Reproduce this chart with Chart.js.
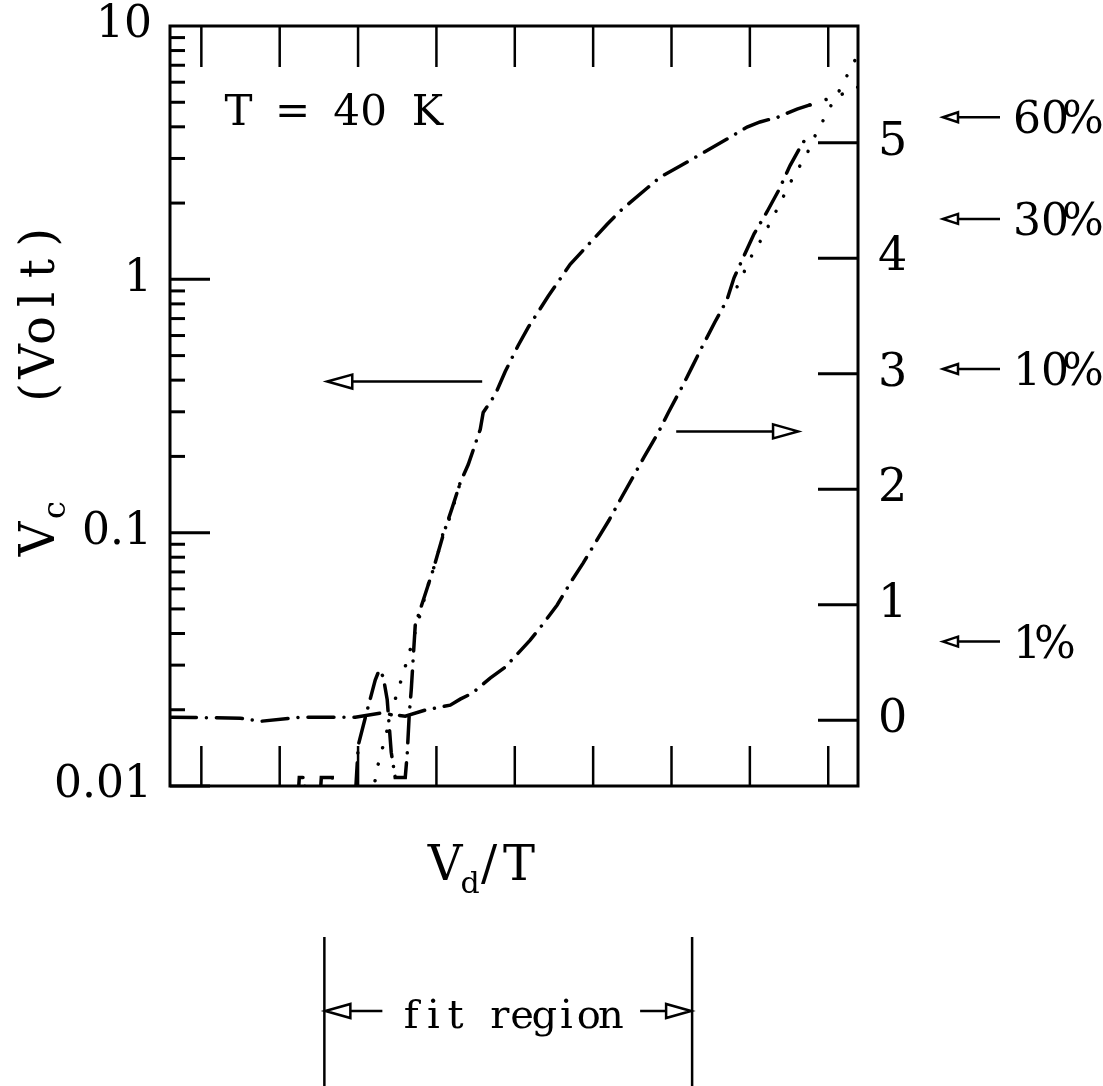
<!DOCTYPE html>
<html>
<head>
<meta charset="utf-8">
<script src="https://cdn.jsdelivr.net/npm/chart.js@4.4.1/dist/chart.umd.min.js"></script>
<style>
  html, body { margin: 0; padding: 0; background: #fff; }
  canvas { display: block; }
</style>
</head>
<body>
<canvas id="chart" width="1103" height="1086"></canvas>
<script>
// x is in plot units (the 9 unlabeled ticks are 1..9)
// left curve (log axis) - dash-dot
const fitLeftX = [0.6, 2.224, 2.250, 2.314, 2.339, 2.505, 2.531, 2.671, 2.696, 2.964, 3.003, 3.092, 3.219,
  3.270, 3.321, 3.372, 3.423, 3.474, 3.602, 3.628, 3.653, 3.679, 3.730, 3.959, 4.087, 4.202, 4.304,
  4.406, 4.559, 4.597, 4.750, 4.878, 5.043, 5.171, 5.426, 5.707, 5.860, 6.179, 6.344, 6.702, 6.855,
  7.110, 7.327, 7.709, 7.964, 8.130, 8.360, 8.602, 8.767];
const fitLeftY = [0.008, 0.008, 0.0108, 0.0108, 0.008, 0.008, 0.0108, 0.0108, 0.008, 0.009, 0.0145, 0.0186, 0.0262,
  0.0287, 0.027, 0.0219, 0.0136, 0.0108, 0.0108, 0.0135, 0.0191, 0.024, 0.0433, 0.0715, 0.0982, 0.1256, 0.1577,
  0.1857, 0.2555, 0.298, 0.351, 0.4325, 0.548, 0.646, 0.857, 1.146, 1.29, 1.65, 1.86, 2.31, 2.53,
  2.80, 3.06, 3.58, 3.99, 4.18, 4.37, 4.70, 4.88];

// left curve (log axis) - dotted
const dataLeftX = [3.181, 3.245, 3.309, 3.398, 3.487, 3.564, 3.628, 3.730, 3.819, 3.883, 3.959, 4.023, 4.087,
  4.176, 4.304, 6.0, 8.767, 9.023, 9.253, 9.38];
const dataLeftY = [0.009, 0.0118, 0.0140, 0.0179, 0.0227, 0.0270, 0.0315, 0.0406, 0.0510, 0.0606, 0.0715, 0.0835, 0.1001,
  0.1155, 0.1577, null, 4.88, 5.19, 5.48, 5.74];

// right curve (linear axis) - dash-dot
const fitRightX = [0.605, 1.497, 1.753, 2.263, 2.964, 3.283, 3.602, 3.857, 4.176, 4.304, 4.457, 4.686, 4.878,
  5.196, 5.349, 5.541, 5.707, 5.872, 6.026, 6.204, 6.344, 6.510, 6.651, 6.829, 6.957, 7.148, 7.263,
  7.390, 7.556, 7.709, 7.798, 7.926, 8.054, 8.219, 8.372, 8.513, 8.653, 8.730];
const fitRightY = [0.026, 0.017, -0.01, 0.026, 0.026, 0.061, 0.035, 0.087, 0.130, 0.182, 0.234, 0.364, 0.459,
  0.693, 0.823, 0.997, 1.187, 1.360, 1.534, 1.733, 1.906, 2.106, 2.279, 2.487, 2.660, 2.903, 3.059,
  3.232, 3.449, 3.640, 3.830, 4.021, 4.211, 4.402, 4.593, 4.801, 4.974, 5.052];

// right curve (linear axis) - dotted
const dataRightX = [7.837, 7.939, 8.041, 8.168, 8.270, 8.385, 8.487, 8.602, 8.730, 8.819, 8.934, 9.048, 9.163, 9.265, 9.38];
const dataRightY = [3.752, 3.899, 4.047, 4.185, 4.324, 4.471, 4.619, 4.757, 4.905, 5.043, 5.191, 5.338, 5.477, 5.615, 5.763];

const xTicks = [1, 2, 3, 4, 5, 6, 7, 8, 9];
const leftTicks = [0.01, 0.1, 1, 10];
const leftTickLabels = ['0.01', '0.1', '1', '10'];
const rightTicks = [0, 1, 2, 3, 4, 5];
const pctLabels = ['60%', '30%', '10%', '1%'];
const pctLevels = [5.22, 4.34, 3.04, 0.68];

const pts = (xs, ys) => xs.map((x, i) => ({ x: x, y: ys[i] }));
const FONT = 'DejaVu Serif';

function seg(ctx, x1, y1, x2, y2) {
  ctx.beginPath();
  ctx.moveTo(x1, y1);
  ctx.lineTo(x2, y2);
  ctx.stroke();
}

// open-headed arrow like the original plot package draws
function arrow(ctx, xFrom, xTip, y, head, half) {
  const dir = Math.sign(xTip - xFrom);
  const base = xTip - dir * head;
  seg(ctx, xFrom, y, base, y);
  ctx.beginPath();
  ctx.moveTo(xTip, y);
  ctx.lineTo(base, y - half);
  ctx.lineTo(base, y + half);
  ctx.closePath();
  ctx.stroke();
}

// typewriter-like spacing: every char gets the same cell
function mono(ctx, str, x, y, cell, size) {
  ctx.font = size + 'px "' + FONT + '"';
  ctx.textAlign = 'center';
  ctx.textBaseline = 'alphabetic';
  [...str].forEach((ch, i) => ctx.fillText(ch, x + cell * (i + 0.5), y));
}

// the frame must sit where the original has it, so drop label overhang
function fixY(width) {
  return s => {
    s.width = width;
    s.paddingTop = 0;
    s.paddingBottom = 0;
  };
}

const deco = {
  id: 'deco',
  afterDatasetsDraw(chart) {
    const { ctx, chartArea: a, scales } = chart;
    const x = scales.x, yl = scales.yL, yr = scales.yR;
    ctx.save();
    ctx.strokeStyle = '#000';
    ctx.fillStyle = '#000';

    // frame
    ctx.lineWidth = 3;
    ctx.strokeRect(a.left, a.top, a.right - a.left, a.bottom - a.top);

    // inward ticks
    ctx.lineWidth = 2.5;
    xTicks.forEach(v => {
      const px = x.getPixelForValue(v);
      seg(ctx, px, a.top, px, a.top + 41);
      seg(ctx, px, a.bottom, px, a.bottom - 40);
    });
    ctx.lineWidth = 3;
    for (let e = -2; e <= 0; e++) {
      for (let m = 1; m <= 9; m++) {
        const py = yl.getPixelForValue(m * Math.pow(10, e));
        seg(ctx, a.left, py, a.left + (m === 1 ? 40 : 15), py);
      }
    }
    rightTicks.forEach(v => {
      const py = yr.getPixelForValue(v);
      seg(ctx, a.right, py, a.right - 40, py);
    });

    // T = 40 K
    mono(ctx, 'T = 40 K', 225, 125, 27, 42);

    // arrows telling which axis each curve belongs to
    ctx.lineWidth = 2.5;
    arrow(ctx, x.getPixelForValue(4.584), x.getPixelForValue(2.607), yl.getPixelForValue(0.395), 25, 7);
    arrow(ctx, x.getPixelForValue(7.06), x.getPixelForValue(8.615), yr.getPixelForValue(2.5), 25, 7);

    // percentage markers on the right
    pctLabels.forEach((t, i) => {
      const py = yr.getPixelForValue(pctLevels[i]);
      ctx.lineWidth = 2.5;
      arrow(ctx, 1000, 943, py, 15, 5);
      mono(ctx, t, 1013, py + 16, 28, 44);
    });

    // axis titles
    ctx.save();
    ctx.translate(54, 0);
    ctx.rotate(-Math.PI / 2);
    mono(ctx, 'V', -557, 0, 36, 48);
    mono(ctx, 'c', -521, 11, 22, 32);
    mono(ctx, '(Volt)', -408, 0, 31, 48);
    ctx.restore();

    mono(ctx, 'V', 428, 880, 34, 48);
    mono(ctx, 'd', 460, 893, 20, 30);
    mono(ctx, '/T', 474, 880, 30, 48);

    // fit region bracket
    const f1 = x.getPixelForValue(2.57), f2 = x.getPixelForValue(7.263);
    ctx.lineWidth = 2.5;
    seg(ctx, f1, 937, f1, 1086);
    seg(ctx, f2, 937, f2, 1086);
    arrow(ctx, f1 + 58, f1 + 1, 1011, 25, 7);
    arrow(ctx, f2 - 52, f2 - 1, 1011, 25, 7);
    mono(ctx, 'fit region', 400, 1028, 22.2, 40);

    ctx.restore();
  }
};

const dashDot = [26, 10, 0.01, 10];
const dotted = [0.01, 17];

function lineSet(data, axis, dash) {
  return {
    data: data,
    yAxisID: axis,
    borderColor: '#000',
    borderWidth: 3.5,
    borderDash: dash,
    borderCapStyle: 'round',
    pointRadius: 0,
    tension: 0,
    spanGaps: false,
    fill: false
  };
}

new Chart(document.getElementById('chart'), {
  type: 'line',
  data: {
    datasets: [
      lineSet(pts(fitLeftX, fitLeftY), 'yL', dashDot),
      lineSet(pts(dataLeftX, dataLeftY), 'yL', dotted),
      lineSet(pts(fitRightX, fitRightY), 'yR', dashDot),
      lineSet(pts(dataRightX, dataRightY), 'yR', dotted)
    ]
  },
  options: {
    responsive: false,
    animation: false,
    devicePixelRatio: 1,
    layout: { padding: { top: 26, left: 0, right: 0, bottom: 0 } },
    plugins: { legend: { display: false }, tooltip: { enabled: false } },
    scales: {
      x: {
        type: 'linear',
        min: 0.6,
        max: 9.38,
        grid: { display: false },
        border: { display: false },
        ticks: { display: false },
        afterFit: s => { s.height = 300; }
      },
      yL: {
        type: 'logarithmic',
        position: 'left',
        min: 0.01,
        max: 10,
        grid: { display: false, drawTicks: false },
        border: { display: false },
        afterBuildTicks: s => { s.ticks = leftTicks.map(v => ({ value: v })); },
        ticks: {
          color: '#000',
          padding: 18,
          font: { family: FONT, size: 44 },
          callback: (v) => leftTickLabels[leftTicks.indexOf(v)]
        },
        afterFit: fixY(170)
      },
      yR: {
        type: 'linear',
        position: 'right',
        min: -0.57,
        max: 6.01,
        grid: { display: false, drawTicks: false },
        border: { display: false },
        afterBuildTicks: s => { s.ticks = rightTicks.map(v => ({ value: v })); },
        ticks: {
          color: '#000',
          padding: 20,
          font: { family: FONT, size: 46 },
          callback: (v) => String(v)
        },
        afterFit: fixY(245)
      }
    }
  },
  plugins: [deco]
});
</script>
</body>
</html>
